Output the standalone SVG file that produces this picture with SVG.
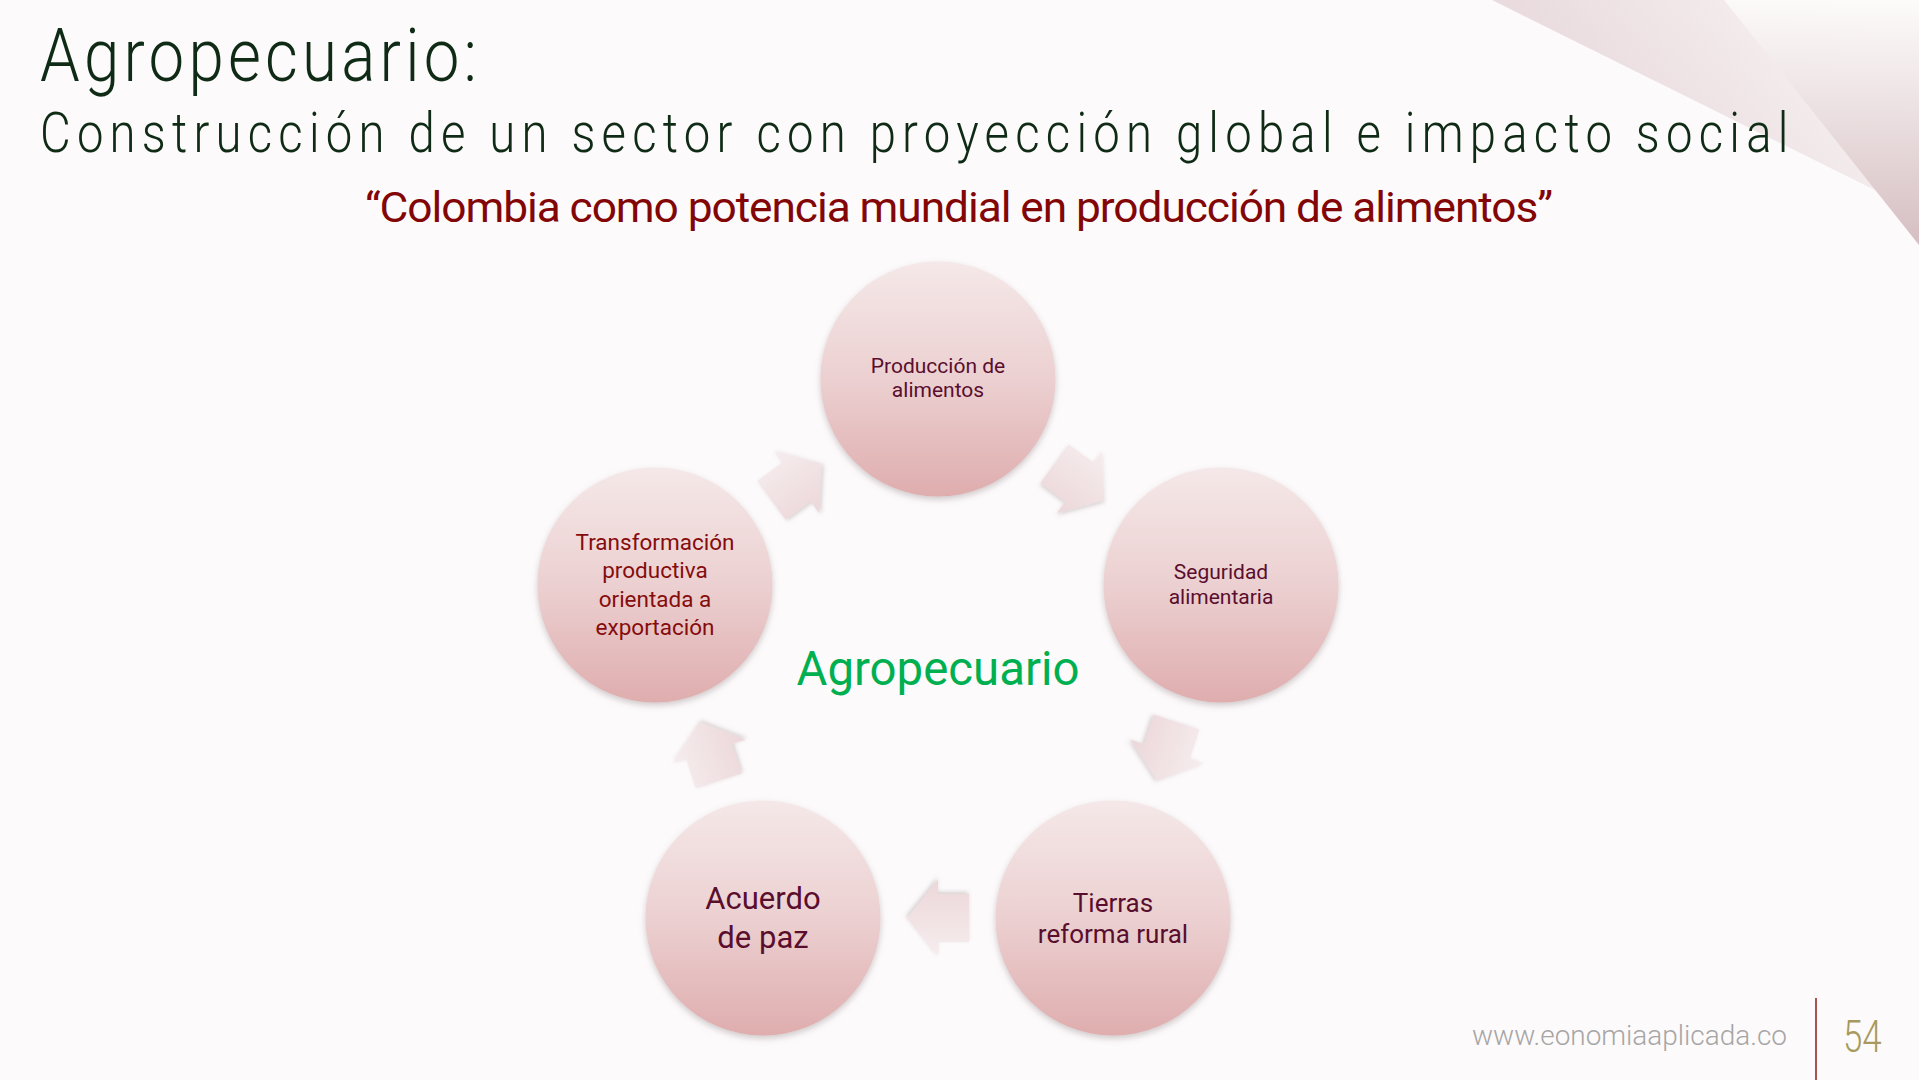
<svg xmlns="http://www.w3.org/2000/svg" width="1919" height="1080" viewBox="0 0 1919 1080">
<defs>
<style>
.ttl{font-family:Roboto,"Liberation Sans",sans-serif;font-weight:300;fill:#0F2A15}
.quote{font-family:Roboto,"Liberation Sans",sans-serif;font-weight:400;fill:#820606}
.lbl{font-family:Roboto,"Liberation Sans",sans-serif;font-weight:400;fill:#5A0E2E;text-anchor:middle}
.red{fill:#860C0C}
.center{font-family:Roboto,"Liberation Sans",sans-serif;font-weight:400;fill:#00B050;text-anchor:middle}
.foot{font-family:Roboto,"Liberation Sans",sans-serif;font-weight:300}
.circ{fill:url(#cg);filter:url(#sh)}
.arr{fill:url(#ag);filter:url(#sh2)}
</style>
<linearGradient id="cg" x1="0" y1="0" x2="0" y2="1">
<stop offset="0" stop-color="#F5E8E8"/>
<stop offset="0.5" stop-color="#ECD0D1"/>
<stop offset="1" stop-color="#DFADAE"/>
</linearGradient>
<linearGradient id="ag" x1="0" y1="0" x2="0" y2="1">
<stop offset="0" stop-color="#F6EDEE"/>
<stop offset="1" stop-color="#ECD7D9"/>
</linearGradient>
<linearGradient id="dg1" x1="1919" y1="0" x2="1680" y2="200" gradientUnits="userSpaceOnUse">
<stop offset="0" stop-color="#FBF8F8"/>
<stop offset="1" stop-color="#EADCDE"/>
</linearGradient>
<linearGradient id="dg2" x1="1919" y1="0" x2="1919" y2="245" gradientUnits="userSpaceOnUse">
<stop offset="0" stop-color="#FDFBFB" stop-opacity="0.9"/>
<stop offset="1" stop-color="#D5BEC1"/>
</linearGradient>
<filter id="sh" x="-20%" y="-20%" width="140%" height="150%">
<feDropShadow dx="0" dy="3" stdDeviation="3" flood-color="#7a6a6a" flood-opacity="0.35"/>
</filter>
<filter id="sh2" x="-30%" y="-30%" width="160%" height="160%">
<feDropShadow dx="1" dy="2" stdDeviation="2" flood-color="#7a6a6a" flood-opacity="0.3"/>
</filter>
<path id="arrow" d="M31,0 L0,-38.5 L0,-24 L-31,-24 L-31,24 L0,24 L0,38.5 Z"/>
</defs>
<rect width="1919" height="1080" fill="#FDFAFB"/>
<g id="decor">
<polygon points="1492,0 1919,0 1919,212" fill="url(#dg1)"/>
<polygon points="1724,0 1919,0 1919,245" fill="url(#dg2)"/>
</g>
<g id="title">
<text class="ttl" font-size="74" transform="translate(40,81) scale(0.86,1)" textLength="508" lengthAdjust="spacing">Agropecuario:</text>
<text class="ttl" font-size="55" transform="translate(40,152) scale(0.86,1)" textLength="2033" lengthAdjust="spacing">Construcción de un sector con proyección global e impacto social</text>
<text class="quote" font-size="42" x="365" y="222" textLength="1187" lengthAdjust="spacingAndGlyphs" letter-spacing="-1">“Colombia como potencia mundial en producción de alimentos”</text>
</g>
<g id="connectors">
<use href="#arrow" class="arr" transform="translate(796.5,482) rotate(-36.05)"/>
<use href="#arrow" class="arr" transform="translate(1079.5,482) rotate(36.05)"/>
<use href="#arrow" class="arr" transform="translate(1167,751.5) rotate(108)"/>
<use href="#arrow" class="arr" transform="translate(938,918) rotate(180)"/>
<use href="#arrow" class="arr" transform="translate(709,751.5) rotate(-108)"/>
</g>
<g id="node-produccion">
<circle class="circ" cx="938" cy="379" r="117.5"/>
<text class="lbl" font-size="21"><tspan x="938" y="373">Producción de</tspan><tspan x="938" y="397">alimentos</tspan></text>
</g>
<g id="node-seguridad">
<circle class="circ" cx="1221" cy="585" r="117.5"/>
<text class="lbl" font-size="21"><tspan x="1221" y="579">Seguridad</tspan><tspan x="1221" y="604">alimentaria</tspan></text>
</g>
<g id="node-tierras">
<circle class="circ" cx="1113" cy="918" r="117.5"/>
<text class="lbl" font-size="26"><tspan x="1113" y="912">Tierras</tspan><tspan x="1113" y="943">reforma rural</tspan></text>
</g>
<g id="node-acuerdo">
<circle class="circ" cx="763" cy="918" r="117.5"/>
<text class="lbl" font-size="31"><tspan x="763" y="909">Acuerdo</tspan><tspan x="763" y="948">de paz</tspan></text>
</g>
<g id="node-transformacion">
<circle class="circ" cx="655" cy="585" r="117.5"/>
<text class="lbl red" font-size="22.5"><tspan x="655" y="550">Transformación</tspan><tspan x="655" y="578">productiva</tspan><tspan x="655" y="607">orientada a</tspan><tspan x="655" y="635">exportación</tspan></text>
</g>
<g id="node-center">
<text class="center" x="938" y="685" font-size="48" textLength="283" lengthAdjust="spacingAndGlyphs">Agropecuario</text>
</g>
<g id="footer">
<text class="foot" x="1472" y="1045" font-size="28" fill="#A6A6A6" textLength="315" lengthAdjust="spacingAndGlyphs">www.eonomiaaplicada.co</text>
<line x1="1816" y1="998" x2="1816" y2="1080" stroke="#8B1A1A" stroke-width="1.5"/>
<text class="foot" font-size="45" fill="#A89A5E" transform="translate(1843,1052) scale(0.86,1)" textLength="45" lengthAdjust="spacingAndGlyphs">54</text>
</g>
</svg>
